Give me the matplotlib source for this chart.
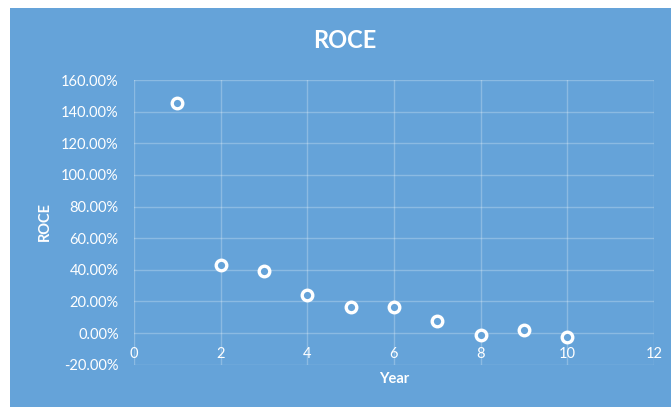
import matplotlib.pyplot as plt
from matplotlib.patches import Rectangle
from matplotlib.ticker import FuncFormatter

# ROCE by year
years = [1, 2, 3, 4, 5, 6, 7, 8, 9, 10]
roce = [1.457, 0.433, 0.390, 0.239, 0.166, 0.166, 0.074, -0.010, 0.021, -0.028]

x_ticks = [0, 2, 4, 6, 8, 10, 12]
y_ticks = [-0.2, 0.0, 0.2, 0.4, 0.6, 0.8, 1.0, 1.2, 1.4, 1.6]

bg = "#65a3d9"
font = "Lato"

fig = plt.figure(figsize=(6.71, 4.07), dpi=100)
fig.patch.set_facecolor("white")
fig.patches.append(Rectangle((10 / 671, 0), 1, 1 - 8 / 407, transform=fig.transFigure,
                             facecolor=bg, edgecolor="none", zorder=-1))

ax = fig.add_axes([134 / 671, (407 - 364.7) / 407, 520 / 671, 284.7 / 407])
ax.set_zorder(1)
ax.set_facecolor(bg)
for s in ax.spines.values():
    s.set_visible(False)

ax.plot(years, roce, linestyle="none", marker="o", markersize=7.6,
        markerfacecolor=bg, markeredgecolor="white", markeredgewidth=2.4, zorder=3)

ax.set_xlim(0, 12)
ax.set_ylim(-0.2, 1.6)
ax.set_xticks(x_ticks)
ax.set_yticks(y_ticks)
ax.grid(True, color="white", alpha=0.25, linewidth=1)
ax.tick_params(length=0, colors="white")
ax.yaxis.set_major_formatter(FuncFormatter(lambda v, p: f"{v * 100:.2f}%"))
for lbl in ax.get_yticklabels():
    lbl.set_fontfamily(font)
    lbl.set_fontsize(10.5)
ax.tick_params(axis="y", pad=11)

# x labels sit just under the zero line
ax.set_xticklabels([])
for t in x_ticks:
    ax.text(t, -0.135, str(t), ha="center", va="center", color="white",
            fontsize=10.5, family=font)

fig.text(345 / 671, 1 - 40 / 407, "ROCE", ha="center", va="center", color="white",
         fontsize=17, fontweight="bold", family=font)
fig.text(394 / 671, 1 - 379 / 407, "Year", ha="center", va="center", color="white",
         fontsize=10.5, fontweight="bold", family=font)
fig.text(45 / 671, 1 - 222 / 407, "ROCE", ha="center", va="center", color="white",
         fontsize=10.5, fontweight="bold", family=font, rotation=90)

fig.savefig("out.png", dpi=100)
